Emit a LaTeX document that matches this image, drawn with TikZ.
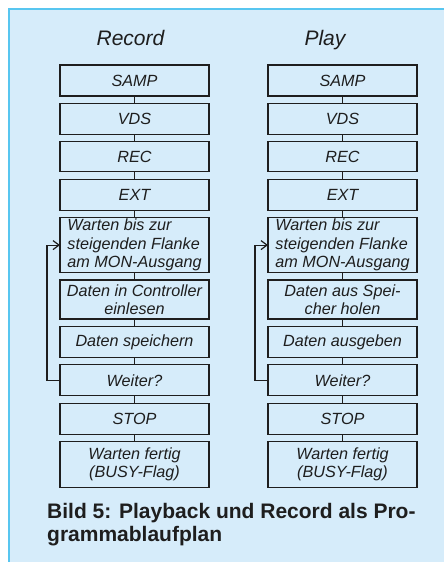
\documentclass[tikz,border=0pt]{standalone}
\usepackage{fontspec}
\setmainfont{Liberation Sans}
\usepackage{tikz}
\usetikzlibrary{positioning,arrows.meta}
\definecolor{paneblue}{RGB}{214,236,250}
\definecolor{rimblue}{RGB}{88,198,240}
\definecolor{inkgray}{RGB}{30,30,30}

\begin{document}
\begin{tikzpicture}[
  blk/.style={rectangle, draw=inkgray, line width=1.2pt, minimum width=149pt, minimum height=31pt, inner sep=0pt, outer sep=0pt, align=center, text=inkgray, font=\fontsize{16.2}{18.3}\selectfont\itshape},
  head/.style={anchor=base, text=inkgray, font=\fontsize{21}{24}\selectfont\itshape},
  caption/.style={anchor=north west, inner sep=0pt, align=left, text=inkgray, font=\fontsize{21}{23.5}\selectfont\bfseries},
  link/.style={draw=inkgray, line width=1.2pt},
  node distance=7.4pt
]
\useasboundingbox (0,0) rectangle (444pt,-562pt);
\fill[white] (0,0) rectangle (444pt,-562pt);
\fill[paneblue] (9pt,-9pt) rectangle (444pt,-562pt);
\draw[rimblue, line width=1.6pt] (9pt,-562pt) -- (9pt,-9pt) -- (444pt,-9pt);

\node[head] (recT) at (130.5pt,-45.7pt) {Record};
\node[head] (playT) at (325pt,-45.7pt) {Play};

\node[blk] (sampL) at (134.5pt,-80.5pt) {SAMP};
\node[blk, below=of sampL] (vdsL) {VDS};
\node[blk, minimum height=30pt, below=of vdsL] (recL) {REC};
\node[blk, below=of recL] (extL) {EXT};
\node[blk, minimum height=55pt, align=left, below=of extL] (wartL) {Warten bis zur\\steigenden Flanke\\am MON-Ausgang};
\node[blk, minimum height=39pt, below=of wartL] (inL) {Daten in Controller\\einlesen};
\node[blk, below=of inL] (saveL) {Daten speichern};
\node[blk, below=of saveL] (weitL) {Weiter?};
\node[blk, below=of weitL] (stopL) {STOP};
\node[blk, minimum height=46pt, below=of stopL] (busyL) {Warten fertig\\(BUSY-Flag)};

\node[blk] (sampR) at (342.5pt,-80.5pt) {SAMP};
\node[blk, below=of sampR] (vdsR) {VDS};
\node[blk, minimum height=30pt, below=of vdsR] (recR) {REC};
\node[blk, below=of recR] (extR) {EXT};
\node[blk, minimum height=55pt, align=left, below=of extR] (wartR) {Warten bis zur\\steigenden Flanke\\am MON-Ausgang};
\node[blk, minimum height=39pt, below=of wartR] (outR) {Daten aus Spei-\\cher holen};
\node[blk, below=of outR] (giveR) {Daten ausgeben};
\node[blk, below=of giveR] (weitR) {Weiter?};
\node[blk, below=of weitR] (stopR) {STOP};
\node[blk, minimum height=46pt, below=of stopR] (busyR) {Warten fertig\\(BUSY-Flag)};

\foreach \a/\b in {sampL/vdsL, vdsL/recL, recL/extL, extL/wartL, wartL/inL, inL/saveL, saveL/weitL, weitL/stopL, stopL/busyL,
  sampR/vdsR, vdsR/recR, recR/extR, extR/wartR, wartR/outR, outR/giveR, giveR/weitR, weitR/stopR, stopR/busyR}
  \draw[link] (\a) -- (\b);

\draw[link, -{Straight Barb[length=6pt,width=9pt]}] (weitL.west) -- ++(-13pt,0) |- (wartL.west);
\draw[link, -{Straight Barb[length=6pt,width=9pt]}] (weitR.west) -- ++(-13pt,0) |- (wartR.west);

\node[caption] (cap) at (47pt,-503pt) {Bild 5: Playback und Record als Pro-\\grammablaufplan};
\end{tikzpicture}
\end{document}
